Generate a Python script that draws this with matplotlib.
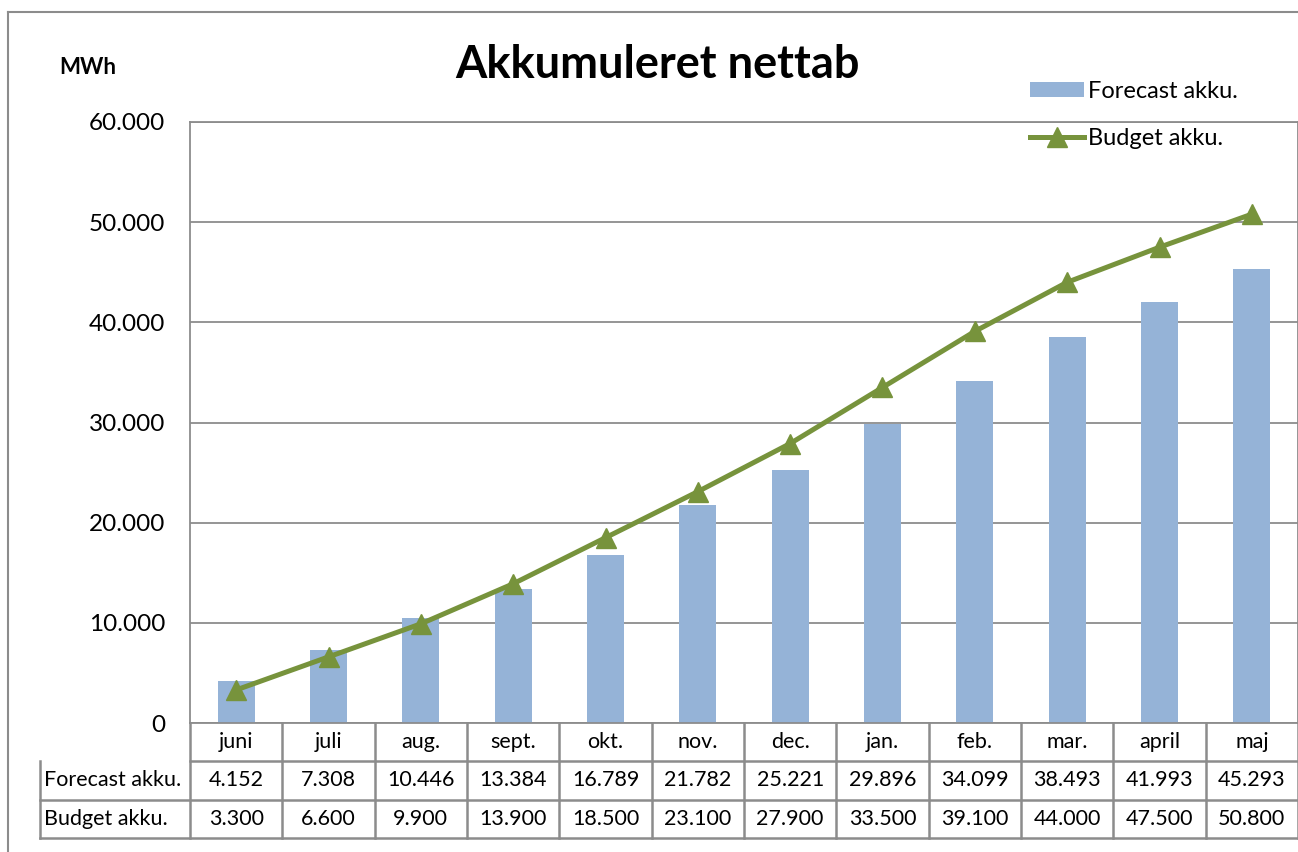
import matplotlib.pyplot as plt
from matplotlib.lines import Line2D
from matplotlib.ticker import FuncFormatter

months = ["juni", "juli", "aug.", "sept.", "okt.", "nov.", "dec.", "jan.", "feb.", "mar.", "april", "maj"]
forecast = [4152, 7308, 10446, 13384, 16789, 21782, 25221, 29896, 34099, 38493, 41993, 45293]
budget = [3300, 6600, 9900, 13900, 18500, 23100, 27900, 33500, 39100, 44000, 47500, 50800]
series_names = ["Forecast akku.", "Budget akku."]

BAR_COLOR = "#95b3d7"
LINE_COLOR = "#77933c"
GRID = "#8c8c8c"

plt.rcParams["font.family"] = ["Lato", "DejaVu Sans"]

W, H = 1298, 852
fig = plt.figure(figsize=(W / 100, H / 100), dpi=100)


def px_box(x0, y0, x1, y1):
    # pixel box (top-left origin) -> figure fraction rect
    return [x0 / W, 1 - y1 / H, (x1 - x0) / W, (y1 - y0) / H]


def dk(v):
    return f"{int(v):,}".replace(",", ".")


# outer chart frame (cut off at right and bottom like the screenshot)
fig.add_artist(Line2D([8 / W, 8 / W], [0, 1 - 12 / H], color="#8c8c8c", lw=1.5, transform=fig.transFigure))
fig.add_artist(Line2D([8 / W, 1], [1 - 12 / H, 1 - 12 / H], color="#8c8c8c", lw=1.5, transform=fig.transFigure))

ax = fig.add_axes(px_box(190, 122, 1298, 723))
x = list(range(len(months)))
bars = ax.bar(x, forecast, width=0.4, color=BAR_COLOR, zorder=2, label=series_names[0])
line, = ax.plot(x, budget, color=LINE_COLOR, lw=3.6, marker="^", markersize=14,
                zorder=3, label=series_names[1], clip_on=False)

ax.set_xlim(-0.5, len(months) - 0.5)
ax.set_ylim(0, 60000)
ax.set_yticks(range(0, 60001, 10000))
ax.yaxis.set_major_formatter(FuncFormatter(lambda v, p: dk(v)))
ax.tick_params(axis="y", length=0, pad=18, labelsize=17.5)
ax.set_xticks([])
ax.grid(axis="y", color=GRID, lw=1.3, zorder=0)
for s in ax.spines.values():
    s.set_color(GRID)
    s.set_linewidth(1.3)

fig.text(657 / W, 1 - 65 / H, "Akkumuleret nettab", ha="center", va="center",
         fontsize=32.5, fontweight="bold")
fig.text(88 / W, 1 - 67 / H, "MWh", ha="center", va="center", fontsize=16, fontweight="bold")

ax.legend([bars, line], series_names, loc="upper left", bbox_to_anchor=(1030 / W, 1 - 81 / H),
          bbox_transform=fig.transFigure, frameon=False, fontsize=17,
          handlelength=2.3, handleheight=0.6, handletextpad=0.15,
          labelspacing=1.1, borderaxespad=0, borderpad=0)

# data table below the axis
label_w = (190 - 40) / 92.33
tx = fig.add_axes(px_box(40, 723, 1298, 838))
tx.set_xlim(-0.5 - label_w, len(months) - 0.5)
tx.set_ylim(3, 0)
tx.axis("off")
left = -0.5 - label_w
right = len(months) - 0.5
kw = dict(color=GRID, lw=1.8, clip_on=False)
tx.plot([-0.5, right], [1, 1], **kw)
tx.plot([left, right], [2, 2], **kw)
tx.plot([left, right], [3, 3], **kw)
tx.plot([left, left], [1, 3], **kw)
for i in range(len(months) + 1):
    tx.plot([i - 0.5, i - 0.5], [0, 3], **kw)

for i, m in enumerate(months):
    tx.text(i, 0.5, m, ha="center", va="center", fontsize=15.5)
    tx.text(i, 1.5, dk(forecast[i]), ha="center", va="center", fontsize=15.5)
    tx.text(i, 2.5, dk(budget[i]), ha="center", va="center", fontsize=15.5)
for r, name in enumerate(series_names):
    tx.text(left + 0.04, 1.5 + r, name, ha="left", va="center", fontsize=15.5)

fig.savefig("out.png", dpi=100)
